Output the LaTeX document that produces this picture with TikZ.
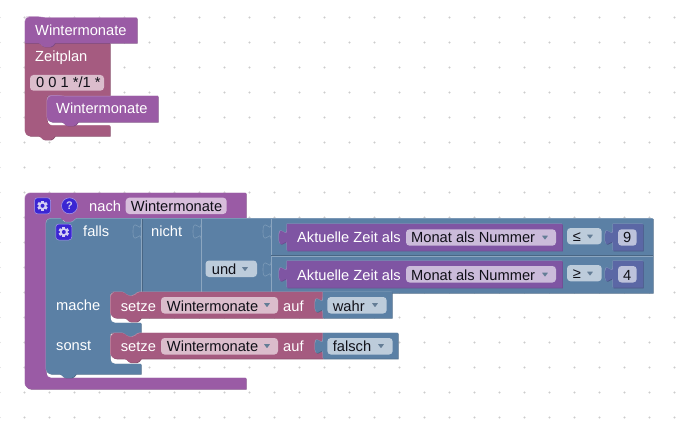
\documentclass[tikz,border=0pt]{standalone}
\usepackage{fontspec}
\setmainfont{Liberation Sans}
\definecolor{pur}{HTML}{9A5BA5}\definecolor{purD}{HTML}{7B4984}\definecolor{purL}{HTML}{B88CC0}
\definecolor{red}{HTML}{A55B80}\definecolor{redD}{HTML}{844966}\definecolor{redL}{HTML}{C08CA6}
\definecolor{blu}{HTML}{5B80A5}\definecolor{bluD}{HTML}{496684}\definecolor{bluL}{HTML}{8CA6C0}
\definecolor{dat}{HTML}{7F55A3}\definecolor{datD}{HTML}{6C4B90}\definecolor{datL}{HTML}{A488BF}
\definecolor{mat}{HTML}{5B67A5}\definecolor{matD}{HTML}{495284}\definecolor{matL}{HTML}{8C95C0}
\definecolor{fPur}{HTML}{D7BDDB}\definecolor{fRed}{HTML}{DBBDCC}\definecolor{fBlu}{HTML}{BDCCDB}
\definecolor{fDat}{HTML}{CBBBDA}\definecolor{fMat}{HTML}{BDC2DB}
\definecolor{icon}{HTML}{3B26D3}\definecolor{gearc}{HTML}{D5D0F4}\definecolor{griddot}{HTML}{CCCCCC}
\definecolor{ink}{HTML}{101018}
\newcommand\blk[2]{%
  \fill[#1D,xshift=.6pt,yshift=-.6pt] #2;
  \fill[#1L,xshift=-.5pt,yshift=.5pt] #2;
  \fill[#1] #2;}
% value tab, going up the left side of a block
\newcommand\vtabU{.. controls +(0,-10) and +(0,15.5) .. ++(-8,-7.5) .. controls +(0,-15.5) and +(0,10) .. ++(8,-7.5)}
% statement tab running right to left
\newcommand\nL{[rounded corners=1.5] -- ++(-3,3.8) -- ++(-9,0) -- ++(-3,-3.8) [sharp corners]}
\newcommand\nR{[rounded corners=1.5] -- ++(3,3.8) -- ++(9,0) -- ++(3,-3.8) [sharp corners]}
\newcommand\fld[6]{\fill[#6,rounded corners=3.5] (#2,#3) rectangle (#4,#5);\coordinate (#1) at (#2,#3);}
\newcommand\arw[2]{\fill[bluD!85!white,rounded corners=.3] (#1-3,#2-1.8) -- (#1+3,#2-1.8) -- (#1,#2+2.2) -- cycle;}
\newcommand\gear[2]{%
  \fill[icon,draw=gearc!70!icon,line width=.5pt,rounded corners=3] (#1-8,#2-8) rectangle (#1+8,#2+8);
  \foreach \a in {0,60,120}{\fill[gearc,shift={(#1,#2)},rotate=\a] (-1.4,-5.2) rectangle (1.4,5.2);}
  \fill[gearc] (#1,#2) circle[radius=4pt];
  \fill[icon] (#1,#2) circle[radius=2pt];}
\tikzset{
  lbl/.style={anchor=base west,inner sep=0pt,text=white,font=\fontsize{14.67}{16}\selectfont},
  ftx/.style={lbl,text=ink},
  sock/.style={bluL,line width=.6pt},
  sockc/.style={bluL!70!blu,line width=.6pt},
}
\begin{document}
\begin{tikzpicture}[x=1pt,y=-1pt]
\useasboundingbox (0,0) rectangle (698,425);
\fill[white] (0,0) rectangle (698,425);
\foreach \i in {0,...,28}{\foreach \j in {0,...,16}{
  \fill[griddot] ({25*\i-.5},{25*\j+17.5}) circle[radius=1.1pt];}}

% --- Zeitplan group
\blk{red}{(25,43) -- (110,43) -- (110,96) -- (47,96) [rounded corners=6] -- (47,125.7) [sharp corners] -- (110,125.7) -- (110,136) -- (55,136) \nL [rounded corners=5] -- (25,136) [sharp corners] -- cycle}
\blk{pur}{(25,43) [rounded corners=5] -- (25,17) -- (31,17) [rounded corners=2] -- (41,17) -- (45,18) [sharp corners] -- (137,18) -- (137,43) -- (55,43) \nL -- cycle}
\node[lbl] (hat) at (35,36) {Wintermonate};
\node[lbl] (zeit) at (35,62) {Zeitplan};
\fld{cronf}{30}{75}{104}{90.7}{fRed}
\node[ftx] (cron) at (36,88) {0 0 1 */1 *};
\blk{pur}{(47,110) [rounded corners=5] -- (47,96) -- (53,95.5) [rounded corners=2] -- (60,95.5) -- (64,96.5) [sharp corners] -- (158,96) -- (158,122) -- (78,122) \nL [rounded corners=5] -- (47,122) [sharp corners] -- cycle}
\node[lbl] (inner) at (56,113.5) {Wintermonate};

% --- nach block
\blk{pur}{(25,380) [rounded corners=6] -- (25,193) [sharp corners] -- (246,193) -- (246,219) -- (78,219) \nL -- (46,219) [rounded corners=5] -- (46,378) [sharp corners] -- (246,378) -- (246,389) [rounded corners=6] -- (25,389) [sharp corners] -- cycle}
\gear{42.5}{205.8}
\fill[icon,draw=gearc!70!icon,line width=.5pt] (69.5,205.8) circle[radius=8pt];
\node[inner sep=0pt,text=gearc,font=\bfseries\fontsize{11}{12}\selectfont] (help) at (69.5,205.8) {?};
\node[lbl] (nach) at (89,211) {nach};
\fld{varf}{125.7}{197.7}{226.7}{214}{fPur}
\node[ftx] (varn) at (130.7,211) {Wintermonate};

% --- falls block
\blk{blu}{(46,350) [rounded corners=5] -- (46,218.5) [sharp corners] -- (61,218.5) \nR -- (653,218.5) -- (653,293) -- (139,293) \nL -- (110,293) [rounded corners=5] -- (110,323) [sharp corners] -- (141,323) -- (141,333) -- (139,333) \nL -- (110,333) [rounded corners=5] -- (110,364) [sharp corners] -- (141,364) -- (141,374) -- (76,374) \nL [rounded corners=5] -- (46,374) [sharp corners] -- cycle}
\draw[sock] (141,219) -- (141,293);
\draw[bluD,line width=.4pt] (141.7,219) -- (141.7,293);
\draw[sock] (201,219) -- (201,293);
\draw[sock] (271,219) -- (271,293);
\draw[sock] (271,256) -- (653,256);
\draw[bluD,line width=.4pt] (271,255.2) -- (653,255.2);
\draw[sockc] (141,239) \vtabU;
\draw[sockc] (201,239) \vtabU;
\draw[sockc] (271,239) \vtabU;
\draw[sockc] (271,277) \vtabU;
\gear{63.8}{232}
\node[lbl] (falls) at (83,236.7) {falls};
\node[lbl] (nicht) at (151,236.7) {nicht};
\fld{undf}{205.5}{260.5}{257}{277}{fBlu}
\node[ftx] (und) at (211.7,274) {und};
\arw{245}{269}
\node[lbl] (mache) at (56,310) {mache};
\node[lbl] (sonst) at (56,350.5) {sonst};

% --- Aktuelle Zeit rows
\blk{dat}{(287,224) -- (562.3,224) -- (562.3,250.7) -- (287,250.7) -- (287,245) \vtabU -- cycle}
\node[lbl] (akt1) at (297,242.7) {Aktuelle Zeit als};
\fld{mf1}{406}{229.3}{556}{245.7}{fDat}
\node[ftx] (m1) at (411,242.7) {Monat als Nummer};
\arw{545}{237.5}
\fld{cf1}{567}{228}{601.7}{244.3}{fBlu}
\node[ftx] (c1) at (572.7,241) {≤};
\arw{590}{236.5}
\blk{mat}{(613,224) -- (643,224) -- (643,250.7) -- (613,250.7) -- (613,245) \vtabU -- cycle}
\fld{nf1}{618}{229.3}{636.7}{245.7}{fMat}
\node[ftx] (n1) at (623,242.7) {9};

\blk{dat}{(287,261) -- (562.3,261) -- (562.3,287.7) -- (287,287.7) -- (287,282) \vtabU -- cycle}
\node[lbl] (akt2) at (297,280) {Aktuelle Zeit als};
\fld{mf2}{406}{266}{556}{282.5}{fDat}
\node[ftx] (m2) at (411,280) {Monat als Nummer};
\arw{545}{274.5}
\fld{cf2}{567}{265}{601.7}{281.3}{fBlu}
\node[ftx] (c2) at (572.7,278) {≥};
\arw{590}{273.5}
\blk{mat}{(613,261) -- (643,261) -- (643,287.7) -- (613,287.7) -- (613,282) \vtabU -- cycle}
\fld{nf2}{618}{266}{636.7}{282.5}{fMat}
\node[ftx] (n2) at (623,280) {4};

% --- setze 1
\blk{red}{(110.5,305) [rounded corners=6] -- (110.5,292) -- (117,292) [rounded corners=2] -- (124,292) -- (128,296) -- (134,296) -- (138,292) [sharp corners] -- (323,292) -- (323,318) -- (141,318) \nL [rounded corners=6] -- (110.5,318) [sharp corners] -- cycle}
\node[lbl] (s1) at (120.7,311) {setze};
\fld{vf1}{161}{297}{278}{313.5}{fRed}
\node[ftx] (v1) at (166.7,311) {Wintermonate};
\arw{267}{305}
\node[lbl] (a1) at (283,311) {auf};
\blk{blu}{(323,292) -- (392,292) -- (392,318) -- (323,318) -- (323,313) \vtabU -- cycle}
\fld{bf1}{327.3}{297}{386.7}{313.5}{fBlu}
\node[ftx] (b1) at (332.7,311) {wahr};
\arw{375}{305}

% --- setze 2
\blk{red}{(110.5,345) [rounded corners=6] -- (110.5,333) -- (117,333) [rounded corners=2] -- (124,333) -- (128,337) -- (134,337) -- (138,333) [sharp corners] -- (323,333) -- (323,358.7) -- (141,358.7) \nL [rounded corners=6] -- (110.5,358.7) [sharp corners] -- cycle}
\node[lbl] (s2) at (120.7,351.7) {setze};
\fld{vf2}{161}{338}{278}{354.5}{fRed}
\node[ftx] (v2) at (166.7,351.7) {Wintermonate};
\arw{267}{346}
\node[lbl] (a2) at (283,351.7) {auf};
\blk{blu}{(323,333) -- (398,333) -- (398,358.7) -- (323,358.7) -- (323,354) \vtabU -- cycle}
\fld{bf2}{327.3}{338}{392.7}{354.5}{fBlu}
\node[ftx] (b2) at (332.7,351.7) {falsch};
\arw{381}{346}
\end{tikzpicture}
\end{document}
